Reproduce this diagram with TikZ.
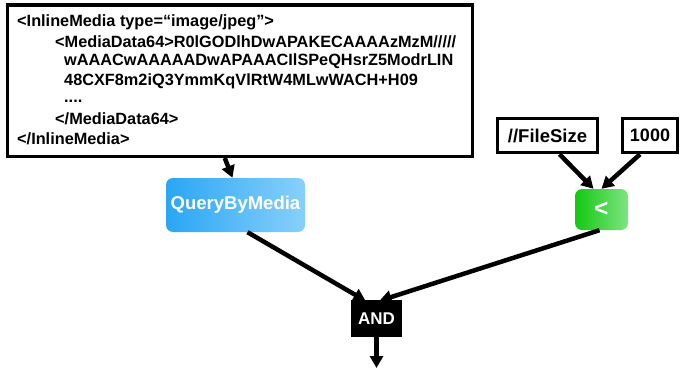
\documentclass[tikz,border=0pt]{standalone}
\usepackage{fontspec}
\setmainfont{Liberation Sans}
\usetikzlibrary{arrows.meta}
\definecolor{blueL}{HTML}{2AA6F4}
\definecolor{blueR}{HTML}{88D0FA}
\definecolor{greenL}{HTML}{12C812}
\definecolor{greenR}{HTML}{80E480}
\tikzset{
  box/.style={draw=black, line width=3.5pt, fill=white},
  txt/.style={anchor=west, inner sep=0pt, font=\fontsize{16.3}{18}\selectfont\bfseries},
  opbox/.style={rounded corners=7pt, text=white, font=\fontsize{18.5}{20}\selectfont\bfseries, inner sep=0pt},
  conn/.style={line width=4.5pt, -{Triangle[length=12pt,width=13pt]}},
}
\begin{document}
\begin{tikzpicture}[x=1pt,y=-1pt]
\useasboundingbox (0,0) rectangle (680,369);
% big XML box
\node[box, minimum width=465pt, minimum height=151pt, anchor=north west, inner sep=0pt] (xml) at (5.5,3.5) {};
\node[txt] (l1) at (17,22) {<InlineMedia type=“image/jpeg”>};
\node[txt] (l2) at (55,42) {<MediaData64>R0lGODlhDwAPAKECAAAAzMzM/////};
\node[txt] (l3) at (64,61) {wAAACwAAAAADwAPAAACIlSPeQHsrZ5ModrLIN};
\node[txt] (l4) at (64,81) {48CXF8m2iQ3YmmKqVlRtW4MLwWACH+H09};
\node[txt] (l5) at (64,101) {....};
\node[txt] (l6) at (55,119) {</MediaData64>};
\node[txt] (l7) at (17,139) {</InlineMedia>};
% QueryByMedia
\node[opbox, left color=blueL, right color=blueR, minimum width=139pt, minimum height=54pt] (qbm) at (235.5,205) {QueryByMedia};
% FileSize / 1000
\node[box, minimum width=100pt, minimum height=34pt, inner sep=0pt, font=\fontsize{18.5}{20}\selectfont\bfseries] (fs) at (547.5,135.5) {//FileSize};
\node[box, minimum width=55pt, minimum height=34pt, inner sep=0pt, font=\fontsize{18}{20}\selectfont\bfseries] (k) at (650,135.5) {1000};
% less-than
\node[opbox, left color=greenL, right color=greenR, minimum width=53pt, minimum height=41pt, font=\fontsize{24}{26}\selectfont\bfseries] (lt) at (601.5,209.5) {<};
% AND
\node[fill=black, text=white, minimum width=51pt, minimum height=37pt, inner sep=0pt, font=\fontsize{17}{19}\selectfont\bfseries] (and) at (376.5,318.5) {AND};
\coordinate (out) at (376.5,368);
% connectors
\draw[conn] ([xshift=-15pt]xml.south) -- ([xshift=-3pt]qbm.north);
\draw[conn] ([xshift=12pt]fs.south) -- ([xshift=-8pt]lt.north);
\draw[conn] ([xshift=-10pt]k.south) -- ([xshift=0pt]lt.north);
\draw[conn] ([xshift=12pt]qbm.south) -- ([xshift=-11pt,yshift=-1pt]and.north);
\draw[conn] ([xshift=-2pt]lt.south) -- ([xshift=3pt,yshift=-1pt]and.north);
\draw[conn] (and.south) -- (out);
\end{tikzpicture}
\end{document}
